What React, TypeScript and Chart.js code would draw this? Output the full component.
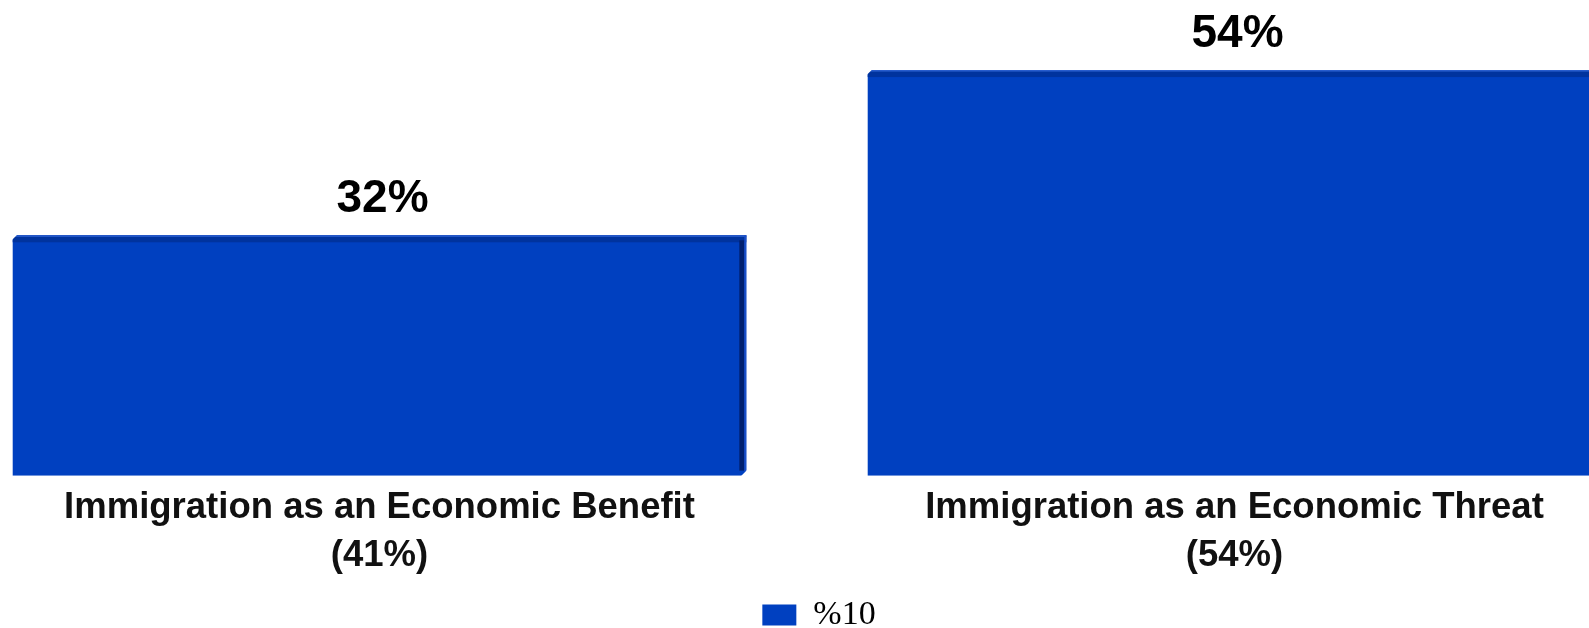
import React, { useEffect, useRef } from "react";
import { Chart, registerables } from "chart.js";

Chart.register(...registerables);

const categories: string[][] = [
  ["Immigration as an Economic Benefit", "(41%)"],
  ["Immigration as an Economic Threat", "(54%)"],
];
const values: number[] = [32, 54];
const valueLabels: string[] = ["32%", "54%"];
const seriesName = "%10";

const BAR_COLOR = "#0040C0";

const bevelPlugin = {
  id: "bevel",
  afterDatasetsDraw(chart: any) {
    const ctx = chart.ctx;
    const meta = chart.getDatasetMeta(0);
    ctx.save();
    meta.data.forEach((bar: any, i: number) => {
      const { x, y, width, base } = bar.getProps(["x", "y", "width", "base"], true);
      const left = x - width / 2;
      const right = x + width / 2;
      // top bevel band
      ctx.fillStyle = "#00339E";
      ctx.fillRect(left, y, width, 7);
      // top light edge
      ctx.fillStyle = "#2A5FD0";
      ctx.fillRect(left, y, width, 1.5);
      // right side band
      ctx.fillStyle = "#002070";
      ctx.fillRect(right - 7, y + 5, 5, base - y - 10);
      ctx.fillStyle = "#1A4FC8";
      ctx.fillRect(right - 2, y, 2, base - y - 4);
      // corner chamfers
      ctx.fillStyle = "#ffffff";
      ctx.beginPath();
      ctx.moveTo(left - 1, y - 1);
      ctx.lineTo(left + 5, y - 1);
      ctx.lineTo(left - 1, y + 5);
      ctx.closePath();
      ctx.fill();
      ctx.beginPath();
      ctx.moveTo(right + 1, base + 1);
      ctx.lineTo(right - 6, base + 1);
      ctx.lineTo(right + 1, base - 6);
      ctx.closePath();
      ctx.fill();
      // value label
      ctx.fillStyle = "#000000";
      ctx.font = "bold 46px 'Liberation Sans', Arial, sans-serif";
      ctx.textAlign = "center";
      ctx.textBaseline = "alphabetic";
      ctx.fillText(valueLabels[i], x + 3, y - 23);
    });
    ctx.restore();
  },
};

export default function App() {
  const canvasRef = useRef<HTMLCanvasElement | null>(null);

  useEffect(() => {
    const canvas = canvasRef.current;
    if (!canvas) return;
    const chart = new Chart(canvas, {
      type: "bar",
      data: {
        labels: categories,
        datasets: [
          {
            label: seriesName,
            data: values,
            backgroundColor: BAR_COLOR,
            borderWidth: 0,
            barPercentage: 0.858,
            categoryPercentage: 1,
          },
        ],
      },
      options: {
        responsive: false,
        animation: false,
        layout: { padding: { top: 22, right: 0, left: 0, bottom: 0 } },
        plugins: {
          tooltip: { enabled: false },
          legend: {
            display: true,
            position: "bottom",
            labels: {
              boxWidth: 34,
              boxHeight: 21,
              padding: 18,
              color: "#000",
              font: { family: "'Liberation Serif', 'Times New Roman', serif", size: 34 },
            },
          },
        },
        scales: {
          x: {
            grid: { display: false },
            border: { display: false },
            ticks: {
              color: "#111",
              padding: 0,
              maxRotation: 0,
              autoSkip: false,
              font: { family: "'Liberation Sans', Arial, sans-serif", size: 36.5, weight: "bold", lineHeight: 1.32 },
            },
          },
          y: {
            display: true,
            position: "right",
            min: 0,
            max: 60.4,
            grid: { display: false },
            border: { display: false },
            ticks: { display: false },
            afterFit(scale: any) {
              scale.width = 24;
            },
          },
        },
      },
      plugins: [bevelPlugin],
    });
    return () => chart.destroy();
  }, []);

  return (
    <div
      style={{
        position: "fixed",
        left: 0,
        top: 0,
        width: 1589,
        height: 628,
        overflow: "hidden",
        background: "#fff",
      }}
    >
      <canvas
        ref={canvasRef}
        width={1734}
        height={642}
        style={{ position: "absolute", left: -48, top: 0, width: 1734, height: 642 }}
      />
    </div>
  );
}
